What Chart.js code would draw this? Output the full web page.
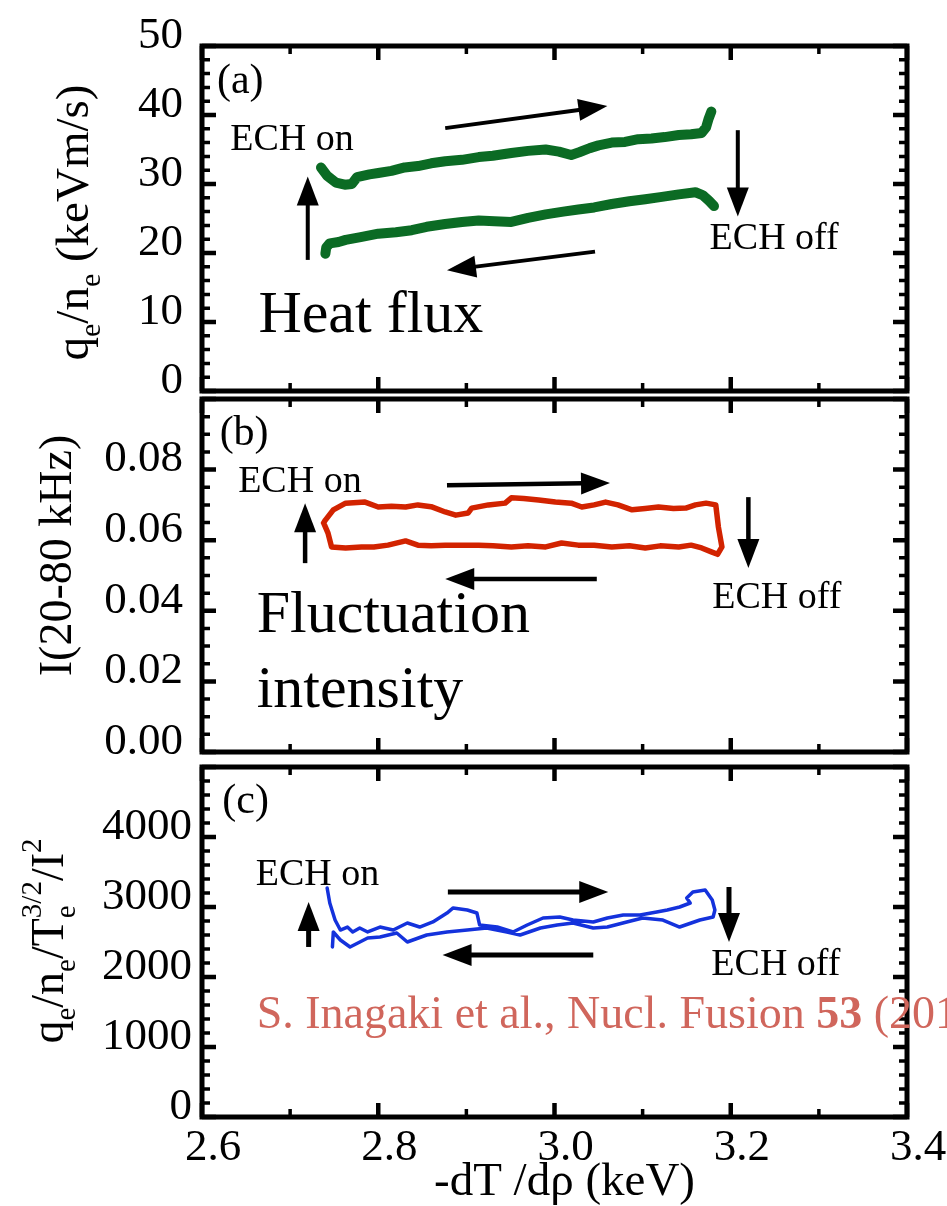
<!DOCTYPE html>
<html>
<head>
<meta charset="utf-8">
<script src="https://cdn.jsdelivr.net/npm/chart.js@4.4.1/dist/chart.umd.min.js"></script>
<style>
  body { margin: 0; background: #fff; }
  #wrap { position: relative; width: 947px; height: 1206px; overflow: hidden; }
  #wrap canvas { position: absolute; left: 0; top: 0; }
</style>
</head>
<body>
<div id="wrap">
  <canvas id="chartA" width="947" height="1206"></canvas>
  <canvas id="chartB" width="947" height="1206"></canvas>
  <canvas id="chartC" width="947" height="1206"></canvas>
</div>
<script>
// x axis: -dTe/drho (keV)
const xMin = 2.6;
const xMax = 3.4;

// (a) heat flux, ECH-on branch (upper) and ECH-off branch (lower)
const fluxOnX = [2.735, 2.742, 2.752, 2.762, 2.770, 2.776, 2.790, 2.800, 2.815, 2.830, 2.845, 2.860, 2.876, 2.895, 2.914, 2.930, 2.951, 2.970, 2.990, 3.005, 3.019, 3.028, 3.040, 3.050, 3.065, 3.080, 3.095, 3.110, 3.125, 3.141, 3.155, 3.167, 3.172, 3.175, 3.178];
const fluxOnY = [32.4, 31.2, 30.2, 29.9, 30.0, 31.0, 31.4, 31.6, 31.9, 32.4, 32.6, 33.0, 33.3, 33.5, 33.9, 34.1, 34.5, 34.8, 35.0, 34.7, 34.2, 34.6, 35.2, 35.6, 36.0, 36.1, 36.5, 36.6, 36.8, 37.1, 37.2, 37.4, 38.2, 39.5, 40.5];
const fluxOffX = [2.740, 2.741, 2.745, 2.755, 2.763, 2.780, 2.800, 2.820, 2.838, 2.855, 2.876, 2.895, 2.914, 2.932, 2.951, 2.970, 2.990, 3.010, 3.027, 3.045, 3.065, 3.085, 3.103, 3.120, 3.141, 3.160, 3.168, 3.175, 3.181];
const fluxOffY = [19.9, 20.8, 21.4, 21.6, 21.9, 22.3, 22.8, 23.0, 23.3, 23.8, 24.2, 24.5, 24.7, 24.6, 24.5, 25.1, 25.6, 26.0, 26.3, 26.6, 27.1, 27.5, 27.8, 28.1, 28.5, 28.8, 28.4, 27.6, 26.8];

// (b) fluctuation intensity I(20-80 kHz), one closed loop
const intensityX = [2.738, 2.740, 2.749, 2.763, 2.785, 2.800, 2.815, 2.831, 2.845, 2.860, 2.876, 2.888, 2.902, 2.906, 2.925, 2.944, 2.951, 2.965, 2.982, 3.001, 3.019, 3.031, 3.045, 3.058, 3.072, 3.088, 3.103, 3.118, 3.135, 3.149, 3.160, 3.172, 3.183, 3.186, 3.190, 3.185, 3.178, 3.167, 3.155, 3.141, 3.120, 3.103, 3.085, 3.065, 3.045, 3.027, 3.008, 2.990, 2.970, 2.951, 2.930, 2.914, 2.895, 2.876, 2.860, 2.845, 2.831, 2.811, 2.795, 2.781, 2.763, 2.747, 2.743, 2.738];
const intensityY = [0.0649, 0.0657, 0.0686, 0.0705, 0.0708, 0.0694, 0.0696, 0.0694, 0.0700, 0.0695, 0.0680, 0.0671, 0.0677, 0.0691, 0.0700, 0.0705, 0.0720, 0.0718, 0.0714, 0.0708, 0.0705, 0.0694, 0.0700, 0.0708, 0.0700, 0.0686, 0.0690, 0.0694, 0.0690, 0.0691, 0.0700, 0.0705, 0.0700, 0.0637, 0.0581, 0.0560, 0.0567, 0.0578, 0.0586, 0.0581, 0.0584, 0.0578, 0.0584, 0.0581, 0.0586, 0.0586, 0.0592, 0.0581, 0.0584, 0.0581, 0.0584, 0.0586, 0.0586, 0.0586, 0.0584, 0.0586, 0.0598, 0.0586, 0.0581, 0.0581, 0.0578, 0.0581, 0.0620, 0.0649];

// (c) qe/ne/Te^(3/2)/I^2
const ratioX = [2.742, 2.745, 2.751, 2.757, 2.765, 2.771, 2.779, 2.788, 2.802, 2.817, 2.833, 2.847, 2.862, 2.878, 2.885, 2.901, 2.912, 2.915, 2.935, 2.953, 2.969, 2.987, 3.006, 3.021, 3.044, 3.060, 3.078, 3.097, 3.116, 3.128, 3.142, 3.154, 3.150, 3.157, 3.171, 3.179, 3.182, 3.180, 3.165, 3.142, 3.123, 3.100, 3.082, 3.060, 3.044, 3.021, 3.003, 2.984, 2.961, 2.946, 2.923, 2.901, 2.878, 2.855, 2.833, 2.821, 2.802, 2.788, 2.768, 2.757, 2.749, 2.748];
const ratioY = [3271, 3057, 2814, 2671, 2714, 2643, 2700, 2643, 2714, 2671, 2771, 2714, 2786, 2914, 2986, 2957, 2914, 2743, 2714, 2643, 2743, 2843, 2857, 2814, 2786, 2843, 2886, 2886, 2929, 2957, 3000, 3057, 3129, 3214, 3243, 3100, 2957, 2857, 2814, 2714, 2814, 2843, 2786, 2714, 2700, 2771, 2743, 2700, 2600, 2643, 2700, 2671, 2643, 2600, 2500, 2629, 2571, 2557, 2429, 2529, 2643, 2429];

const zip = (xs, ys) => xs.map((v, i) => ({ x: v, y: ys[i] }));

const SERIF = '"Liberation Serif", "Times New Roman", serif';
const fontOf = (p) => `${p.b ? "bold " : ""}${p.s}px ${SERIF}`;

function partsWidth(ctx, parts) {
  let w = 0, pend = 0;
  parts.forEach((p) => {
    ctx.font = fontOf(p);
    const pw = ctx.measureText(p.t).width;
    if (p.stack) pend = Math.max(pend, pw);
    else { w += Math.max(pw, pend); pend = 0; }
  });
  return w + pend;
}

function drawParts(ctx, parts, x, y) {
  let pen = 0, pend = 0;
  ctx.textAlign = "left";
  ctx.textBaseline = "alphabetic";
  parts.forEach((p) => {
    ctx.font = fontOf(p);
    ctx.fillStyle = p.c || "#000";
    const pw = ctx.measureText(p.t).width;
    ctx.fillText(p.t, x + pen, y + (p.dy || 0));
    if (p.stack) pend = Math.max(pend, pw);
    else { pen += Math.max(pw, pend); pend = 0; }
  });
}

function drawArrow(ctx, x1, y1, x2, y2, w) {
  const len = Math.hypot(x2 - x1, y2 - y1);
  const ux = (x2 - x1) / len, uy = (y2 - y1) / len;
  const head = 29, half = 11;
  const bx = x2 - ux * head, by = y2 - uy * head;
  ctx.lineWidth = w;
  ctx.lineCap = "butt";
  ctx.beginPath();
  ctx.moveTo(x1, y1);
  ctx.lineTo(bx + ux * 2, by + uy * 2);
  ctx.stroke();
  ctx.beginPath();
  ctx.moveTo(x2, y2);
  ctx.lineTo(bx - uy * half, by + ux * half);
  ctx.lineTo(bx + uy * half, by - ux * half);
  ctx.closePath();
  ctx.fill();
}

// box frame with inward ticks on all four sides
const framePlugin = {
  id: "frame",
  afterDraw(chart, args, opts) {
    const { ctx, chartArea: a, scales: { x, y } } = chart;
    ctx.save();
    ctx.strokeStyle = "#000";
    ctx.lineCap = "butt";
    const isMajor = (v, step) => Math.abs(v / step - Math.round(v / step)) < 1e-6;
    const ny = Math.round((y.max - y.min) / opts.yMinor);
    for (let i = 0; i <= ny; i++) {
      const v = y.min + i * opts.yMinor;
      const major = isMajor(v, opts.yMajor);
      const len = major ? 14 : 8;
      const py = y.getPixelForValue(v);
      ctx.lineWidth = major ? 4.5 : 3.5;
      ctx.beginPath();
      ctx.moveTo(a.left, py); ctx.lineTo(a.left + len, py);
      ctx.moveTo(a.right, py); ctx.lineTo(a.right - len, py);
      ctx.stroke();
    }
    const nx = Math.round((x.max - x.min) / 0.1);
    for (let i = 0; i <= nx; i++) {
      const v = x.min + i * 0.1;
      const major = isMajor(v, 0.2);
      const len = major ? 14 : 8;
      const px = x.getPixelForValue(v);
      ctx.lineWidth = major ? 4.5 : 3.5;
      ctx.beginPath();
      ctx.moveTo(px, a.top); ctx.lineTo(px, a.top + len);
      ctx.moveTo(px, a.bottom); ctx.lineTo(px, a.bottom - len);
      ctx.stroke();
    }
    ctx.lineWidth = 5;
    ctx.strokeRect(a.left, a.top, a.right - a.left, a.bottom - a.top);
    ctx.restore();
  },
};

// arrows and in-plot labels, placed in data coordinates
const notesPlugin = {
  id: "notes",
  afterDraw(chart, args, opts) {
    const { ctx, scales: { x, y } } = chart;
    ctx.save();
    ctx.fillStyle = "#000";
    ctx.strokeStyle = "#000";
    (opts.arrows || []).forEach(([x1, y1, x2, y2]) => {
      drawArrow(ctx, x.getPixelForValue(x1), y.getPixelForValue(y1),
        x.getPixelForValue(x2), y.getPixelForValue(y2), opts.arrowWidth || 4);
    });
    (opts.texts || []).forEach((n) => {
      drawParts(ctx, n.parts, x.getPixelForValue(n.x), y.getPixelForValue(n.y));
    });
    ctx.restore();
  },
};

// rotated y title with sub/superscripts, optional x title
const titlesPlugin = {
  id: "titles",
  afterDraw(chart, args, opts) {
    const { ctx, chartArea: a } = chart;
    ctx.save();
    if (opts.y) {
      const w = partsWidth(ctx, opts.y.parts);
      ctx.translate(opts.y.x, (a.top + a.bottom) / 2 + (opts.y.dy || 0));
      ctx.rotate(-Math.PI / 2);
      drawParts(ctx, opts.y.parts, -w / 2, 0);
      ctx.setTransform(1, 0, 0, 1, 0, 0);
    }
    if (opts.x) {
      const w = partsWidth(ctx, opts.x.parts);
      drawParts(ctx, opts.x.parts, (a.left + a.right) / 2 + opts.x.dx - w / 2, a.bottom + opts.x.dy);
    }
    ctx.restore();
  },
};

const txt = (t, s, extra) => Object.assign({ t: t, s: s }, extra || {});

function makeChart(id, cfg) {
  return new Chart(document.getElementById(id), {
    type: "scatter",
    data: { datasets: cfg.datasets },
    plugins: [framePlugin, notesPlugin, titlesPlugin],
    options: {
      responsive: false,
      animation: false,
      events: [],
      layout: { padding: { top: cfg.top, bottom: cfg.bottom, left: 0, right: 40 } },
      elements: { point: { radius: 0 }, line: { tension: 0 } },
      scales: {
        x: {
          type: "linear",
          min: xMin,
          max: xMax,
          display: cfg.showX,
          grid: { display: false, drawTicks: false },
          border: { display: false },
          afterFit: (s) => { s.height = cfg.showX ? 89 : 0; },
          ticks: {
            stepSize: 0.2,
            autoSkip: false,
            maxRotation: 0,
            padding: 4,
            labelOffset: 11,
            color: "#000",
            font: { family: SERIF, size: 45 },
            callback: (v) => v.toFixed(1),
          },
        },
        y: {
          type: "linear",
          min: cfg.yMin,
          max: cfg.yMax,
          grid: { display: false, drawTicks: false },
          border: { display: false },
          afterFit: (s) => { s.width = 202; },
          ticks: {
            stepSize: cfg.yStep,
            autoSkip: false,
            padding: cfg.yPad,
            labelOffset: -10,
            color: "#000",
            font: { family: SERIF, size: 45 },
            callback: cfg.yFormat,
          },
        },
      },
      plugins: {
        legend: { display: false },
        tooltip: { enabled: false },
        frame: { yMinor: cfg.yMinor, yMajor: cfg.yStep },
        notes: cfg.notes,
        titles: cfg.titles,
      },
    },
  });
}

const lineStyle = (color, width) => ({
  showLine: true,
  borderColor: color,
  backgroundColor: color,
  borderWidth: width,
  borderCapStyle: "round",
  borderJoinStyle: "round",
  pointRadius: 0,
  fill: false,
});

makeChart("chartA", {
  top: 38, bottom: 1206 - 391, showX: false,
  yMin: 0, yMax: 50, yStep: 10, yMinor: 2, yPad: 19,
  yFormat: (v) => String(v),
  datasets: [
    Object.assign({ data: zip(fluxOnX, fluxOnY) }, lineStyle("#0b6b24", 10)),
    Object.assign({ data: zip(fluxOffX, fluxOffY) }, lineStyle("#0b6b24", 10)),
  ],
  notes: {
    arrowWidth: 4,
    arrows: [
      [2.720, 19.0, 2.720, 31.1],
      [2.876, 38.1, 3.060, 41.3],
      [3.046, 20.2, 2.878, 17.5],
      [3.208, 37.8, 3.208, 25.3],
    ],
    texts: [
      { x: 2.617, y: 43.2, parts: [txt("(a)", 42)] },
      { x: 2.632, y: 34.9, parts: [txt("ECH on", 38)] },
      { x: 3.176, y: 20.6, parts: [txt("ECH off", 38)] },
      { x: 2.664, y: 8.5, parts: [txt("Heat flux", 60)] },
    ],
  },
  titles: {
    y: {
      x: 88, dy: 4,
      parts: [txt("q", 47), txt("e", 30, { dy: 12 }), txt("/n", 47), txt("e", 30, { dy: 12 }), txt(" (keVm/s)", 47)],
    },
  },
});

makeChart("chartB", {
  top: 399, bottom: 1206 - 752, showX: false,
  yMin: 0, yMax: 0.1, yStep: 0.02, yMinor: 0.005, yPad: 19,
  yFormat: (v) => (v > 0.09 ? "" : v.toFixed(2)),
  datasets: [
    Object.assign({ data: zip(intensityX, intensityY) }, lineStyle("#d22300", 5.5)),
  ],
  notes: {
    arrowWidth: 4.5,
    arrows: [
      [2.717, 0.0535, 2.717, 0.0705],
      [2.878, 0.0756, 3.063, 0.0762],
      [3.048, 0.0490, 2.876, 0.0490],
      [3.220, 0.0722, 3.220, 0.0521],
    ],
    texts: [
      { x: 2.620, y: 0.0870, parts: [txt("(b)", 42)] },
      { x: 2.641, y: 0.0737, parts: [txt("ECH on", 38)] },
      { x: 3.179, y: 0.0408, parts: [txt("ECH off", 38)] },
      { x: 2.662, y: 0.0340, parts: [txt("Fluctuation", 60)] },
      { x: 2.662, y: 0.0127, parts: [txt("intensity", 60)] },
    ],
  },
  titles: {
    y: { x: 71, dy: -20, parts: [txt("I(20-80 kHz)", 46)] },
  },
});

makeChart("chartC", {
  top: 767, bottom: 0, showX: true,
  yMin: 0, yMax: 5000, yStep: 1000, yMinor: 200, yPad: 10,
  yFormat: (v) => (v > 4500 ? "" : String(v)),
  datasets: [
    Object.assign({ data: zip(ratioX, ratioY) }, lineStyle("#1432dc", 3.5)),
  ],
  notes: {
    arrowWidth: 5,
    arrows: [
      [2.721, 2429, 2.721, 3071],
      [2.879, 3214, 3.061, 3214],
      [3.044, 2314, 2.873, 2314],
      [3.198, 3286, 3.198, 2500],
    ],
    texts: [
      { x: 2.623, y: 4343, parts: [txt("(c)", 42)] },
      { x: 2.661, y: 3314, parts: [txt("ECH on", 38)] },
      { x: 3.178, y: 2029, parts: [txt("ECH off", 38)] },
      {
        x: 2.662, y: 1271,
        parts: [
          txt("S. Inagaki et al., Nucl. Fusion ", 46, { c: "#d0665c" }),
          txt("53", 46, { c: "#d0665c", b: true }),
          txt(" (2013)", 46, { c: "#d0665c" }),
        ],
      },
    ],
  },
  titles: {
    y: {
      x: 63, dy: -1,
      parts: [
        txt("q", 46), txt("e", 29, { dy: 12 }), txt("/n", 46), txt("e", 29, { dy: 12 }),
        txt("/T", 46), txt("3/2", 29, { dy: -22, stack: true }), txt("e", 29, { dy: 12 }),
        txt("/I", 46), txt("2", 29, { dy: -22 }),
      ],
    },
    x: { dx: 10, dy: 78, parts: [txt("-dT /d\u03c1 (keV)", 47)] },
  },
});
</script>
</body>
</html>
